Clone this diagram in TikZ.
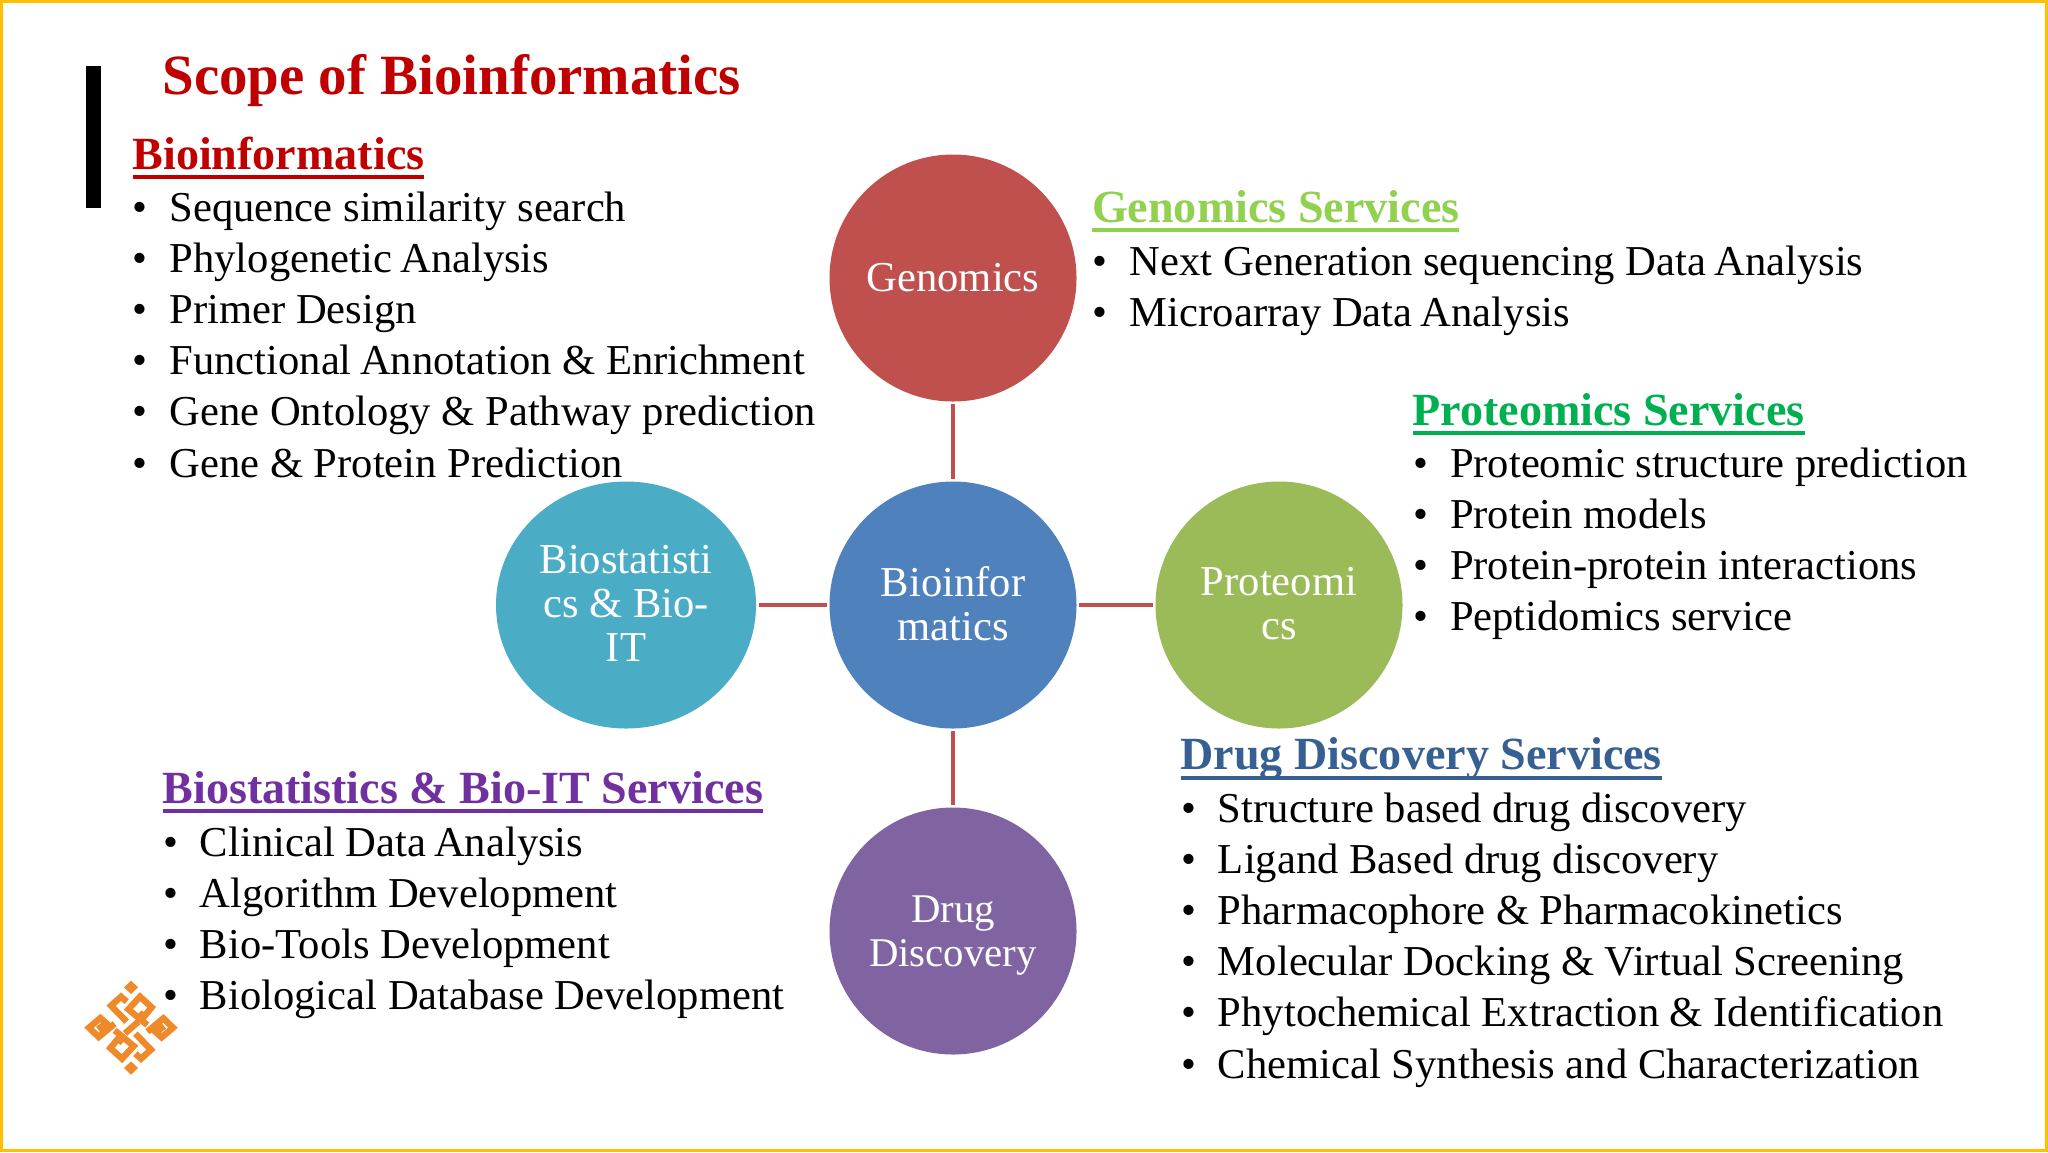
\documentclass[tikz,border=0pt]{standalone}
\usepackage{fontspec}
\setmainfont{Liberation Serif}
\usetikzlibrary{shapes.geometric}
\definecolor{titlered}{HTML}{C00000}
\definecolor{gengreen}{HTML}{92D050}
\definecolor{progreen}{HTML}{00B050}
\definecolor{drugblue}{HTML}{376092}
\definecolor{biopurple}{HTML}{7030A0}
\definecolor{cred}{HTML}{C0504D}
\definecolor{cblue}{HTML}{4F81BD}
\definecolor{cgreen}{HTML}{9BBB59}
\definecolor{cpurple}{HTML}{8064A2}
\definecolor{ccyan}{HTML}{4BACC6}
\definecolor{frame}{HTML}{FFC000}
\definecolor{logoorange}{HTML}{EE8A2A}
\tikzset{
  txt/.style={anchor=base west,inner sep=0pt,outer sep=0pt},
  itemtxt/.style={txt,font=\fontsize{21.3}{25}\selectfont},
  headtxt/.style={txt,font=\fontsize{23.05}{27}\selectfont\bfseries},
  orb/.style={circle,minimum size=123.5pt,inner sep=0pt,outer sep=1.2pt,text=white,align=center,
    font=\fontsize{21.3}{22}\selectfont},
  orbwide/.style={ellipse,minimum width=130pt,minimum height=123.5pt,inner sep=0pt,outer sep=1.7pt,text=white,align=center,
    font=\fontsize{21.3}{22}\selectfont},
  link/.style={draw=cred,line width=2pt},
  knot/.style={draw=logoorange,line width=3.2pt,line join=miter,line cap=butt},
}
\newcommand{\headline}[5]{% name, x, y, colour, text
  \node[headtxt,text=#4] (#1) at (#2,#3) {#5};
  \draw[#4,line width=2pt] ([yshift=-4pt]#1.base west) -- ([yshift=-4pt]#1.base east);
}
\newcommand{\bulletlist}[5]{% name, xbullet, xtext-offset(pt), y0, items
  \foreach \t [count=\i from 0] in {#5} {
    \pgfmathsetmacro{\yy}{#4+51.2*\i}
    \node[itemtxt] (#1\i) at (#2,\yy) {\makebox[#3pt][l]{•}\t};
  }
}
\newcommand{\ka}{\kern-1.2pt }
\begin{document}
\begin{tikzpicture}[x=0.5pt,y=-0.5pt]
\useasboundingbox (0,0) rectangle (2048,1152);
\fill[white] (0,0) rectangle (2048,1152);
\draw[frame,line width=1.5pt] (1.5,1.5) rectangle (2046.5,1150.5);
\fill[black] (86,66) rectangle (101,208);

\node[txt,text=titlered,font=\fontsize{28.45}{32}\selectfont\bfseries] (title) at (162.5,94) {Scope of Bioinformatics};

\node[orb,fill=cblue,text depth=1.8pt]   (bio)  at (953,605)  {Bioinfor\\matics};
\node[orb,fill=cred]    (gen)  at (953,278)  {Genomics};
\node[orb,fill=cgreen,text depth=1.8pt]  (pro)  at (1279,605) {Proteomi\\cs};
\node[orb,fill=cpurple,text depth=0pt,font=\fontsize{20.4}{22}\selectfont] (drug) at (953,931)  {Drug\\Discovery};
\node[orbwide,fill=ccyan,text depth=1.3pt] (stat) at (626,605) {Biostatisti\\cs \& Bio-\\IT};

\draw[link] (bio) -- (gen);
\draw[link] (bio) -- (pro);
\draw[link] (bio) -- (drug);
\draw[link] (bio) -- (stat);

\headline{hbio}{132.5}{169}{titlered}{Bioinformatics}
\bulletlist{lbio}{132}{18.8}{221}{Sequence similarity search,Phylogenetic \ka Analysis,Primer Design,Functional \ka Annotation \& Enrichment,Gene Ontology \& Pathway prediction,Gene \& Protein Prediction}

\headline{hgen}{1092}{222}{gengreen}{Genomics Services}
\bulletlist{lgen}{1092}{19}{275}{Next Generation sequencing Data \ka Analysis,Microarray Data \ka Analysis}

\headline{hpro}{1412.5}{425}{progreen}{Proteomics Services}
\bulletlist{lpro}{1413}{18.5}{477}{Proteomic structure prediction,Protein models,Protein-protein interactions,Peptidomics service}

\headline{hdrug}{1180.5}{769.5}{drugblue}{Drug Discovery Services}
\bulletlist{ldrug}{1181}{18.5}{822}{Structure based drug discovery,Ligand Based drug discovery,Pharmacophore \& Pharmacokinetics,Molecular Docking \& Virtual Screening,Phytochemical Extraction \& Identification,Chemical Synthesis and Characterization}

\headline{hstat}{162.5}{803}{biopurple}{Biostatistics \& Bio-IT Services}
\bulletlist{lstat}{163}{18.5}{856}{Clinical Data \ka Analysis,Algorithm Development,Bio-Tools Development,Biological Database Development}

% logo (coordinates are those of a 3x crop)
\begin{scope}[x=0.1667pt,y=-0.1667pt,shift={(30pt,-475pt)}]
  \fill[logoorange] (213,92) -- (234,112) -- (213,132) -- (192,112) -- cycle;
  \fill[logoorange] (213,374) -- (234,354) -- (213,334) -- (192,354) -- cycle;
  \draw[knot] (262,245) -- (310,205) -- (339,233) -- (305,262) -- (288,247) -- (312,228);
  \draw[knot] (164,221) -- (116,261) -- (87,233) -- (121,204) -- (138,219) -- (114,238);
  \draw[knot] (200,155) -- (183,140) -- (153,167) -- (200,215);
  \draw[knot] (226,311) -- (243,326) -- (273,299) -- (226,251);
  \draw[knot] (238,188) -- (252,200) -- (275,172) -- (240,140) -- (205,178) -- (262,225);
  \draw[knot] (188,278) -- (174,266) -- (151,294) -- (186,326) -- (221,288) -- (164,241);
  \draw[knot] (195,250) -- (235,215);
\end{scope}
\end{tikzpicture}
\end{document}
